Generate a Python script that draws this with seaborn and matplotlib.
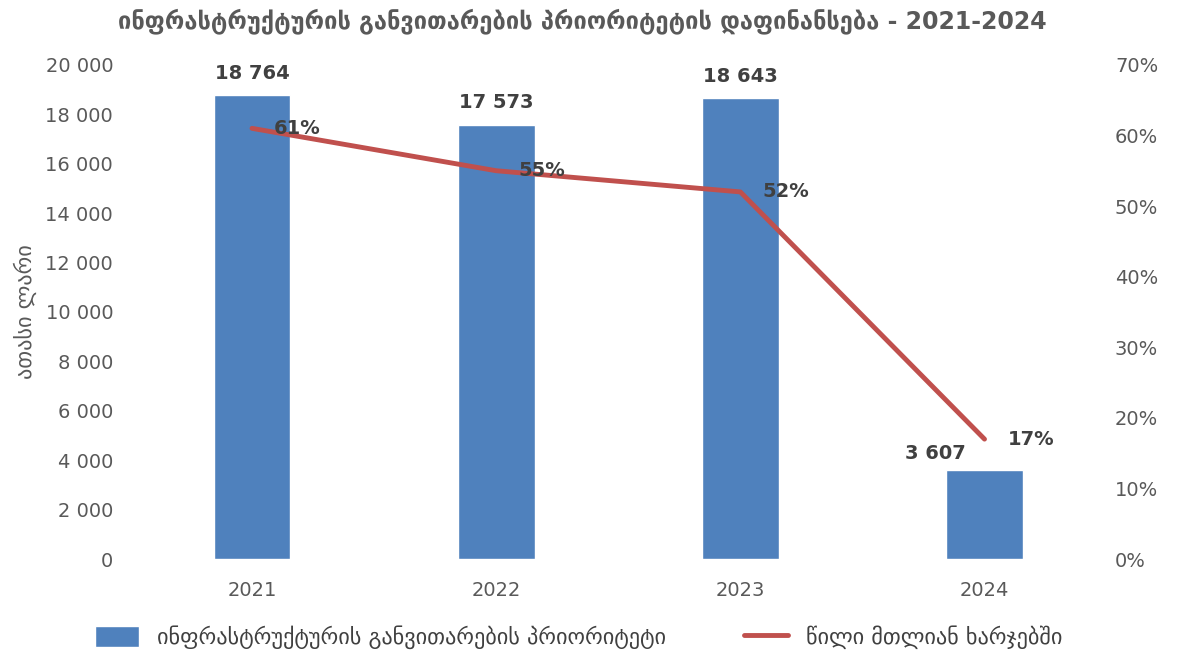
import matplotlib
matplotlib.use("Agg")
import matplotlib.pyplot as plt
import seaborn as sns
import pandas as pd
from matplotlib.ticker import FuncFormatter
from matplotlib.lines import Line2D
from matplotlib.patches import Patch

years = ["2021", "2022", "2023", "2024"]
funding = [18764, 17573, 18643, 3607]
share = [61, 55, 52, 17]

title = "ინფრასტრუქტურის განვითარების პრიორიტეტის დაფინანსება - 2021-2024"
bar_name = "ინფრასტრუქტურის განვითარების პრიორიტეტი"
line_name = "წილი მთლიან ხარჯებში"
ylabel = "ათასი ლარი"

sns.set_theme(style="white")
plt.rcParams['font.family'] = ['DejaVu Sans']

bar_color = "#4F81BD"
line_color = "#C0504D"
text_color = "#595959"
label_color = "#404040"

df = pd.DataFrame({"year": years, "funding": funding, "share": share})

fig, ax = plt.subplots(figsize=(11.81, 6.61), dpi=100)
fig.subplots_adjust(left=0.11, right=0.937, top=0.902, bottom=0.154)

sns.barplot(data=df, x="year", y="funding", color=bar_color, saturation=1,
            width=0.315, ax=ax)
ax.set_ylim(0, 20000)
ax.set_xlim(-0.5, 3.5)
ax.set_yticks(range(0, 20001, 2000))
ax.yaxis.set_major_formatter(FuncFormatter(lambda v, p: f"{int(v):,}".replace(",", " ")))
ax.set_xlabel("")
ax.set_ylabel(ylabel, fontsize=16, color=text_color, labelpad=6)
ax.tick_params(axis="both", labelsize=14, colors=text_color, length=0)
ax.tick_params(axis="y", pad=12)
ax.tick_params(axis="x", pad=16)

# value labels above bars; the small last bar has its label shifted left
bar_offsets = [(0, 500), (0, 500), (0, 500), (-0.2, 300)]
for i, v in enumerate(funding):
    dx, dy = bar_offsets[i]
    ax.text(i + dx, v + dy, f"{v:,}".replace(",", " "), ha="center", va="bottom",
            fontsize=14, fontweight="bold", color=label_color)

ax2 = ax.twinx()
ax2.plot(range(len(years)), share, color=line_color, linewidth=3.5,
         solid_capstyle="round")
ax2.set_ylim(0, 70)
ax2.set_yticks(range(0, 71, 10))
ax2.yaxis.set_major_formatter(FuncFormatter(lambda v, p: f"{int(v)}%"))
ax2.tick_params(axis="y", labelsize=14, colors=text_color, length=0, pad=6)
ax2.grid(False)

offsets = [(0.09, 0), (0.09, 0), (0.09, 0), (0.094, 0)]
for i, v in enumerate(share):
    dx, dy = offsets[i]
    ax2.text(i + dx, v + dy, f"{v}%", ha="left", va="center",
             fontsize=14, fontweight="bold", color=label_color)

for a in (ax, ax2):
    for s in a.spines.values():
        s.set_visible(False)

fig.suptitle(title, fontsize=17, fontweight="bold", color=text_color,
             x=0.493, y=0.987)

handles = [Patch(facecolor=bar_color, label=bar_name),
           Line2D([0], [0], color=line_color, linewidth=3.5, label=line_name)]
fig.legend(handles=handles, loc="lower center", ncol=2, frameon=False,
           fontsize=16, bbox_to_anchor=(0.49, -0.012), columnspacing=3.5,
           handlelength=2.0, handleheight=1.1, handletextpad=0.8,
           labelcolor=label_color)

fig.savefig("out.png", dpi=100)
